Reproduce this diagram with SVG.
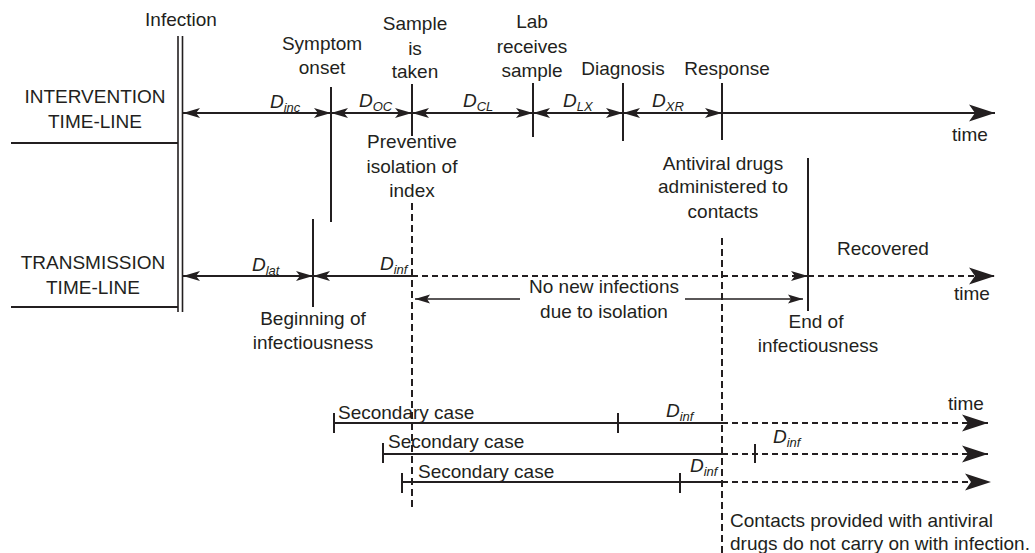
<svg xmlns="http://www.w3.org/2000/svg" width="1035" height="553" viewBox="0 0 1035 553">
<style>
text{font-family:"Liberation Sans",Arial,sans-serif;font-size:19px;fill:#231f20}
.c{text-anchor:middle}
.d{font-style:italic}
.s{font-size:13px}
.ln{stroke:#231f20;stroke-width:2;fill:none}
.th{stroke:#231f20;stroke-width:1.3;fill:none}
.ds{stroke:#231f20;stroke-width:2;fill:none;stroke-dasharray:6 4}
.vd{stroke:#231f20;stroke-width:2;fill:none;stroke-dasharray:7 4}
</style>
<defs>
<marker id="ah" markerUnits="userSpaceOnUse" markerWidth="18" markerHeight="12" refX="17" refY="6" orient="auto-start-reverse" viewBox="0 0 18 12"><path d="M0,1 L17,6 L0,11 L4,6 Z" fill="#231f20"/></marker>
<marker id="big" markerUnits="userSpaceOnUse" markerWidth="27" markerHeight="19" refX="26" refY="9.5" orient="auto" viewBox="0 0 27 19"><path d="M0,1 L26,9.5 L0,18 L6,9.5 Z" fill="#231f20"/></marker>
<marker id="sm" markerUnits="userSpaceOnUse" markerWidth="16" markerHeight="10" refX="15" refY="5" orient="auto-start-reverse" viewBox="0 0 16 10"><path d="M0,0.5 L15,5 L0,9.5 L3,5 Z" fill="#231f20"/></marker>
</defs>

<g id="labels-left">
<text class="c" x="95" y="103">INTERVENTION</text>
<text class="c" x="95" y="128">TIME-LINE</text>
<text class="c" x="93" y="269">TRANSMISSION</text>
<text class="c" x="93" y="294">TIME-LINE</text>
<line class="ln" x1="11" y1="143" x2="178" y2="143"/>
<line class="ln" x1="11" y1="307" x2="178" y2="307"/>
</g>

<g id="infection">
<text class="c" x="181" y="26">Infection</text>
<line class="th" x1="178" y1="36" x2="178" y2="312" style="stroke-width:1.6"/>
<line class="th" x1="182.5" y1="36" x2="182.5" y2="312" style="stroke-width:1.6"/>
</g>

<g id="symptom-onset">
<text class="c" x="322" y="50">Symptom</text>
<text class="c" x="322" y="74">onset</text>
<line class="ln" x1="331" y1="87" x2="331" y2="222"/>
</g>

<g id="sample-taken">
<text class="c" x="415" y="30">Sample</text>
<text class="c" x="415" y="55">is</text>
<text class="c" x="415" y="78">taken</text>
<line class="ln" x1="412" y1="84" x2="412" y2="136"/>
<text class="c" x="412" y="148">Preventive</text>
<text class="c" x="412" y="173">isolation of</text>
<text class="c" x="412" y="197">index</text>
</g>

<g id="lab-receives">
<text class="c" x="532" y="28">Lab</text>
<text class="c" x="532" y="53">receives</text>
<text class="c" x="532" y="77">sample</text>
<line class="ln" x1="533" y1="83" x2="533" y2="137"/>
</g>

<g id="diagnosis">
<text class="c" x="623" y="75">Diagnosis</text>
<line class="ln" x1="623" y1="83" x2="623" y2="141"/>
</g>

<g id="response">
<text class="c" x="727" y="75">Response</text>
<line class="ln" x1="722" y1="83" x2="722" y2="140"/>
<text class="c" x="723" y="170">Antiviral drugs</text>
<text class="c" x="723" y="193">administered to</text>
<text class="c" x="723" y="218">contacts</text>
</g>

<g id="beginning-infectiousness">
<line class="ln" x1="313" y1="219" x2="313" y2="307"/>
<text class="c" x="313" y="325">Beginning of</text>
<text class="c" x="313" y="349">infectiousness</text>
</g>

<g id="end-infectiousness">
<line class="ln" x1="808" y1="158" x2="808" y2="311"/>
<text class="c" x="816" y="328">End of</text>
<text class="c" x="818" y="352">infectiousness</text>
<text class="c" x="883" y="255">Recovered</text>
</g>

<g id="duration-labels">
<text class="d" x="270" y="108">D<tspan class="s" dy="4">inc</tspan></text>
<text class="d" x="359" y="107">D<tspan class="s" dy="4">OC</tspan></text>
<text class="d" x="463" y="107">D<tspan class="s" dy="4">CL</tspan></text>
<text class="d" x="563" y="107">D<tspan class="s" dy="4">LX</tspan></text>
<text class="d" x="652" y="107">D<tspan class="s" dy="4">XR</tspan></text>
<text class="d" x="252" y="271">D<tspan class="s" dy="4">lat</tspan></text>
<text class="d" x="380" y="270">D<tspan class="s" dy="4">inf</tspan></text>
<text class="d" x="666" y="417">D<tspan class="s" dy="4">inf</tspan></text>
<text class="d" x="773" y="443">D<tspan class="s" dy="4">inf</tspan></text>
<text class="d" x="690" y="472">D<tspan class="s" dy="4">inf</tspan></text>
</g>

<g id="time-labels">
<text class="c" x="970" y="141">time</text>
<text class="c" x="972" y="300">time</text>
<text class="c" x="966" y="410">time</text>
</g>

<g id="no-new-infections">
<text class="c" x="604" y="293">No new infections</text>
<text class="c" x="604" y="318">due to isolation</text>
</g>

<g id="secondary-cases">
<text x="338" y="419">Secondary case</text>
<text x="388" y="448">Secondary case</text>
<text x="418" y="478">Secondary case</text>
<line class="ln" x1="334" y1="413" x2="334" y2="433"/>
<line class="ln" x1="618" y1="413" x2="618" y2="433"/>
<line class="ln" x1="383" y1="443" x2="383" y2="463"/>
<line class="ln" x1="755" y1="444" x2="755" y2="463"/>
<line class="ln" x1="402" y1="473" x2="402" y2="493"/>
<line class="ln" x1="680" y1="473" x2="680" y2="493"/>
</g>

<g id="contacts-note">
<text x="730" y="527">Contacts provided with antiviral</text>
<text x="730" y="550">drugs do not carry on with infection.</text>
</g>

<g id="connectors">
<line class="ln" x1="183" y1="113" x2="331" y2="113" marker-start="url(#ah)" marker-end="url(#ah)"/>
<line class="ln" x1="331" y1="113" x2="412" y2="113" marker-start="url(#ah)" marker-end="url(#ah)"/>
<line class="ln" x1="412" y1="113" x2="533" y2="113" marker-start="url(#ah)" marker-end="url(#ah)"/>
<line class="ln" x1="533" y1="113" x2="623" y2="113" marker-start="url(#ah)" marker-end="url(#ah)"/>
<line class="ln" x1="623" y1="113" x2="722" y2="113" marker-start="url(#ah)" marker-end="url(#ah)"/>
<line class="ln" x1="722" y1="113" x2="995" y2="113" marker-end="url(#big)"/>
<line class="ln" x1="183" y1="276" x2="313" y2="276" marker-start="url(#ah)" marker-end="url(#ah)"/>
<line class="ln" x1="313" y1="276" x2="412" y2="276" marker-start="url(#ah)"/>
<line class="ds" x1="412" y1="276" x2="808" y2="276" marker-end="url(#ah)"/>
<line class="ds" x1="808" y1="276" x2="995" y2="276" marker-end="url(#big)"/>
<line class="th" x1="520" y1="299" x2="415" y2="299" marker-end="url(#sm)"/>
<line class="th" x1="685" y1="299" x2="803" y2="299" marker-end="url(#sm)"/>
<line class="vd" x1="412" y1="203" x2="412" y2="507"/>
<line class="vd" x1="722" y1="238" x2="722" y2="553"/>
<line class="ln" x1="334" y1="423" x2="722" y2="423"/>
<line class="ds" x1="722" y1="423" x2="988" y2="423" marker-end="url(#big)"/>
<line class="ln" x1="383" y1="454" x2="722" y2="454"/>
<line class="ds" x1="722" y1="454" x2="988" y2="454" marker-end="url(#big)"/>
<line class="ln" x1="402" y1="482" x2="722" y2="482"/>
<line class="ds" x1="722" y1="482" x2="991" y2="482" marker-end="url(#big)"/>
</g>
</svg>
